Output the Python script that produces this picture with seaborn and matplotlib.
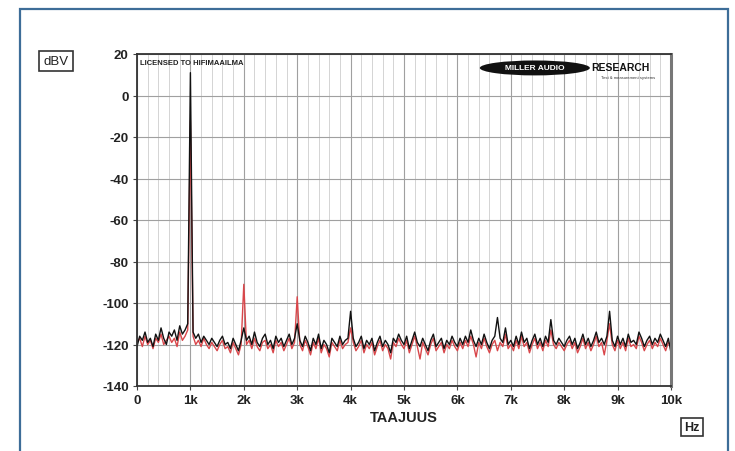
import numpy as np
import pandas as pd
import matplotlib
matplotlib.use("Agg")
import matplotlib.pyplot as plt
from matplotlib.patches import Rectangle, Ellipse
from matplotlib.ticker import MultipleLocator
import seaborn as sns

# frequency grid of the traces, 50 Hz step
freq_hz = np.arange(0, 10001, 50)

# black trace (dBV), one row per kHz
black_dbv = [
    -121, -116, -118, -114, -119, -117, -121, -115, -118, -112, -117, -120, -114, -116, -113, -118, -111, -115, -113, -110,
    11, -114, -117, -115, -119, -116, -118, -120, -117, -119, -121, -118, -116, -120, -119, -122, -117, -120, -123, -118,
    -112, -118, -116, -120, -114, -119, -121, -117, -115, -120, -118, -122, -116, -119, -117, -121, -118, -115, -120, -117,
    -110, -118, -121, -116, -119, -123, -117, -120, -115, -122, -118, -120, -124, -117, -119, -121, -116, -120, -118, -117,
    -104, -117, -121, -119, -116, -122, -118, -120, -117, -123, -119, -116, -121, -118, -120, -124, -117, -119, -115, -118,
    -120, -116, -122, -118, -114, -119, -121, -117, -120, -123, -118, -115, -121, -119, -117, -122, -118, -120, -116, -119,
    -121, -117, -120, -116, -119, -113, -118, -121, -117, -120, -115, -119, -122, -118, -116, -107, -117, -119, -112, -120,
    -118, -121, -116, -120, -114, -119, -117, -122, -118, -115, -120, -117, -121, -116, -119, -108, -118, -120, -117, -119,
    -121, -118, -116, -120, -117, -122, -119, -115, -120, -117, -121, -118, -114, -119, -117, -120, -116, -104, -118, -121,
    -116, -120, -117, -121, -115, -119, -118, -120, -114, -117, -121, -118, -116, -120, -117, -119, -115, -118, -121, -117,
    -124,
]

# red trace (dBV)
red_dbv = [
    -119, -117, -121, -116, -120, -118, -122, -117, -119, -115, -120, -118, -116, -119, -117, -121, -114, -118, -116, -113,
    -12, -116, -120, -118, -121, -117, -120, -122, -119, -121, -123, -120, -118, -122, -121, -124, -119, -122, -125, -120,
    -91, -120, -118, -122, -117, -121, -123, -119, -118, -122, -120, -124, -118, -121, -119, -123, -120, -117, -122, -119,
    -97, -120, -123, -118, -121, -125, -119, -122, -117, -124, -120, -122, -126, -119, -121, -123, -118, -122, -120, -119,
    -112, -119, -123, -121, -118, -124, -120, -122, -119, -125, -121, -118, -123, -120, -122, -127, -119, -121, -117, -120,
    -122, -118, -124, -120, -116, -121, -127, -119, -122, -125, -120, -117, -123, -121, -119, -124, -120, -122, -118, -121,
    -123, -119, -122, -118, -121, -116, -120, -126, -119, -122, -117, -121, -124, -120, -118, -123, -119, -121, -115, -122,
    -120, -123, -118, -122, -116, -121, -119, -124, -120, -117, -122, -119, -123, -118, -121, -113, -120, -122, -119, -121,
    -123, -120, -118, -122, -119, -124, -121, -117, -122, -119, -123, -120, -116, -121, -119, -125, -118, -110, -120, -123,
    -118, -122, -119, -123, -117, -121, -120, -122, -116, -119, -123, -120, -118, -122, -119, -121, -117, -120, -123, -119,
    -121,
]

x_ticks = [0, 1000, 2000, 3000, 4000, 5000, 6000, 7000, 8000, 9000, 10000]
x_tick_labels = ["0", "1k", "2k", "3k", "4k", "5k", "6k", "7k", "8k", "9k", "10k"]
y_ticks = [20, 0, -20, -40, -60, -80, -100, -120, -140]


def main():
    sns.set_style("white")
    plt.rcParams["font.family"] = ["Liberation Sans", "DejaVu Sans"]
    plt.rcParams["axes.unicode_minus"] = False

    df = pd.DataFrame({
        "Hz": np.concatenate([freq_hz, freq_hz]),
        "dBV": red_dbv + black_dbv,
        "trace": ["red"] * len(freq_hz) + ["black"] * len(freq_hz),
    })

    fig = plt.figure(figsize=(7.35, 4.52), dpi=100)
    ax = fig.add_axes([137 / 735, 1 - 387 / 452, 534 / 735, 332 / 452])

    # blue outer frame
    fig.patches.append(Rectangle((20 / 735, -0.02), 708 / 735, 1 - 10 / 452 + 0.02,
                                 transform=fig.transFigure, fill=False,
                                 edgecolor="#3d6d98", linewidth=1.6))

    sns.lineplot(data=df, x="Hz", y="dBV", hue="trace",
                 palette={"red": "#d9464a", "black": "#111111"},
                 estimator=None, sort=False, linewidth=1.0, legend=False, ax=ax)

    ax.set_xlim(0, 10000)
    ax.set_ylim(-140, 20)
    ax.xaxis.set_minor_locator(MultipleLocator(200))
    ax.set_xticks(x_ticks)
    ax.set_xticklabels(x_tick_labels)
    ax.set_yticks(y_ticks)
    ax.grid(which="major", color="#a0a0a0", linewidth=0.8)
    ax.grid(which="minor", axis="x", color="#d4d4d4", linewidth=0.7)
    ax.set_axisbelow(True)

    ax.tick_params(axis="both", which="major", length=3, width=0.8, color="#444444",
                   labelsize=9.5, pad=3, direction="out", bottom=True, left=True)
    ax.tick_params(which="minor", length=0)
    for lab in ax.get_xticklabels() + ax.get_yticklabels():
        lab.set_fontweight("bold")
        lab.set_color("#222222")

    for side in ["left", "bottom", "top"]:
        ax.spines[side].set_color("#333333")
        ax.spines[side].set_linewidth(1.3)
    ax.spines["right"].set_color("#777777")
    ax.spines["right"].set_linewidth(2.2)

    ax.set_xlabel("TAAJUUS", fontsize=10.5, fontweight="bold", color="#222222", labelpad=3)
    ax.set_ylabel("")

    # unit boxes
    fig.text(56 / 735, 1 - 62 / 452, "dBV", ha="center", va="center", fontsize=9.5,
             color="#222222",
             bbox=dict(boxstyle="square,pad=0.3", fc="white", ec="#333333", lw=1.2))
    fig.text(692 / 735, 1 - 428 / 452, "Hz", ha="center", va="center", fontsize=9,
             fontweight="bold", color="#222222",
             bbox=dict(boxstyle="square,pad=0.25", fc="white", ec="#333333", lw=1.2))

    ax.text(0.005, 0.985, "LICENSED TO HIFIMAAILMA", transform=ax.transAxes,
            ha="left", va="top", fontsize=5.5, fontweight="bold", color="#222222")

    # logo
    ax.add_patch(Ellipse((0.745, 0.958), 0.206, 0.045, transform=ax.transAxes,
                         facecolor="#111111", edgecolor="none", zorder=5))
    ax.text(0.745, 0.958, "MILLER AUDIO", transform=ax.transAxes, ha="center", va="center",
            fontsize=6, fontweight="bold", color="white", zorder=6)
    ax.text(0.85, 0.962, "RESEARCH", transform=ax.transAxes, ha="left", va="center",
            fontsize=7.5, fontweight="bold", color="#111111", zorder=6)
    ax.text(0.92, 0.93, "Test & measurement systems", transform=ax.transAxes, ha="center",
            va="center", fontsize=3, color="#333333", zorder=6)

    fig.savefig("out.png", dpi=100, facecolor="white")
    plt.close(fig)


if "__main__" == __name__:
    main()
